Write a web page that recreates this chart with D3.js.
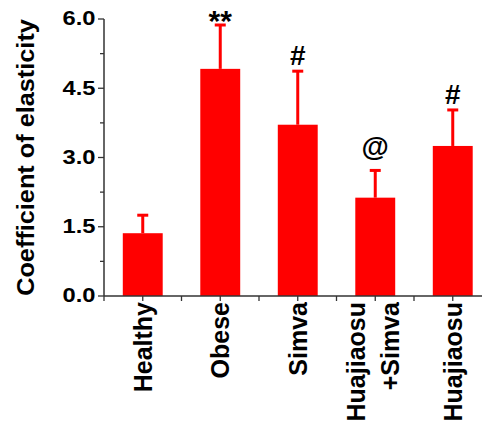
<!DOCTYPE html>
<html>
<head>
<meta charset="utf-8">
<script src="https://cdn.jsdelivr.net/npm/d3@7"></script>
<style>
  html, body { margin: 0; padding: 0; background: #fff; }
  svg { display: block; }
  text { font-family: "Liberation Sans", Arial, sans-serif; font-weight: bold; fill: #000; }
</style>
</head>
<body>
<svg id="chart" width="482" height="421"></svg>
<script>
// ---- data ----
const categories = ["Healthy", "Obese", "Simva", "Huajiaosu\n+Simva", "Huajiaosu"];
const means = [1.36, 4.92, 3.71, 2.13, 3.25];
const errors = [0.39, 0.95, 1.16, 0.59, 0.78];
const annotations = ["", "**", "#", "@", "#"];
const yTicks = [0, 1.5, 3.0, 4.5, 6.0];
const yMinorTicks = [0.75, 2.25, 3.75, 5.25];
const yTitle = "Coefficient of elasticity";

// ---- layout ----
const svg = d3.select("#chart");
const mLeft = 104, mBottom = 296, mTop = 19;
const step = 77.5;

const x = d3.scaleBand()
  .domain(categories)
  .range([mLeft, mLeft + step * categories.length])
  .paddingInner(0.485)
  .paddingOuter(0.2425);

const y = d3.scaleLinear().domain([0, 6]).range([mBottom, mTop]);

const axisColor = "#333";

const data = categories.map((c, i) => ({ c, m: means[i], e: errors[i], a: annotations[i] }));

// error bars
const eg = svg.append("g");
data.forEach(d => {
  const cx = x(d.c) + x.bandwidth() / 2;
  eg.append("line")
    .attr("x1", cx).attr("x2", cx)
    .attr("y1", y(d.m)).attr("y2", y(d.m + d.e))
    .attr("stroke", "#ff0000").attr("stroke-width", 3);
  eg.append("line")
    .attr("x1", cx - 5.5).attr("x2", cx + 5.5)
    .attr("y1", y(d.m + d.e)).attr("y2", y(d.m + d.e))
    .attr("stroke", "#ff0000").attr("stroke-width", 3);
});

svg.append("g").selectAll("rect").data(data).join("rect")
  .attr("x", d => x(d.c))
  .attr("width", x.bandwidth())
  .attr("y", d => y(d.m))
  .attr("height", d => y(0) - y(d.m))
  .attr("fill", "#ff0000");

// annotations
svg.append("g").selectAll("text").data(data.filter(d => d.a)).join("text")
  .attr("x", d => x(d.c) + x.bandwidth() / 2)
  .attr("y", d => y(d.m + d.e) - (d.a === "**" ? -6 : d.a === "@" ? 14 : 6))
  .attr("text-anchor", "middle")
  .style("font-size", d => d.a === "**" ? "30px" : "28px")
  .text(d => d.a);

// y axis
const yAxis = svg.append("g").attr("transform", `translate(${mLeft},0)`);
yAxis.append("line")
  .attr("x1", 0).attr("x2", 0).attr("y1", y(0)).attr("y2", y(6))
  .attr("stroke", axisColor).attr("stroke-width", 1.5);
yAxis.selectAll(".maj").data(yTicks).join("line").attr("class", "maj")
  .attr("x1", -6).attr("x2", 0)
  .attr("y1", d => y(d)).attr("y2", d => y(d))
  .attr("stroke", axisColor).attr("stroke-width", 1.3);
yAxis.selectAll(".min").data(yMinorTicks).join("line").attr("class", "min")
  .attr("x1", -4).attr("x2", 0)
  .attr("y1", d => y(d)).attr("y2", d => y(d))
  .attr("stroke", axisColor).attr("stroke-width", 1.3);
yAxis.selectAll("text").data(yTicks).join("text")
  .attr("transform", d => `translate(-8.5,${y(d) - 1}) scale(1.13,1)`)
  .attr("dy", "0.35em")
  .attr("text-anchor", "end")
  .style("font-size", "21px")
  .text(d => d3.format(".1f")(d));

// y title
svg.append("text")
  .attr("transform", `translate(34,${(y(0) + y(6)) / 2}) rotate(-90) scale(1.1,1)`)
  .attr("text-anchor", "middle")
  .style("font-size", "23px")
  .text(yTitle);

// x axis
const xAxis = svg.append("g").attr("transform", `translate(0,${mBottom})`);
xAxis.append("line")
  .attr("x1", mLeft).attr("x2", mLeft + step * categories.length)
  .attr("y1", 0).attr("y2", 0)
  .attr("stroke", axisColor).attr("stroke-width", 1.5);
xAxis.selectAll(".maj").data(categories).join("line").attr("class", "maj")
  .attr("x1", d => x(d) + x.bandwidth() / 2).attr("x2", d => x(d) + x.bandwidth() / 2)
  .attr("y1", 0).attr("y2", 5)
  .attr("stroke", axisColor).attr("stroke-width", 1.3);
xAxis.selectAll(".min").data(d3.range(categories.length + 1)).join("line").attr("class", "min")
  .attr("x1", i => mLeft + i * step).attr("x2", i => mLeft + i * step)
  .attr("y1", 0).attr("y2", 5)
  .attr("stroke", axisColor).attr("stroke-width", 1.3);

// x labels
const lineGap = 34;
categories.forEach(c => {
  const lines = c.split("\n");
  const cx = x(c) + x.bandwidth() / 2;
  const n = lines.length;
  lines.forEach((ln, j) => {
    const bx = cx + 9 + (j - (n - 1) / 2) * lineGap - (n > 1 ? 2 : 0);
    svg.append("text")
      .attr("transform", `translate(${bx},${mBottom + 6}) rotate(-90)`)
      .attr("text-anchor", "end")
      .style("font-size", "25px")
      .text(ln);
  });
});
</script>
</body>
</html>
